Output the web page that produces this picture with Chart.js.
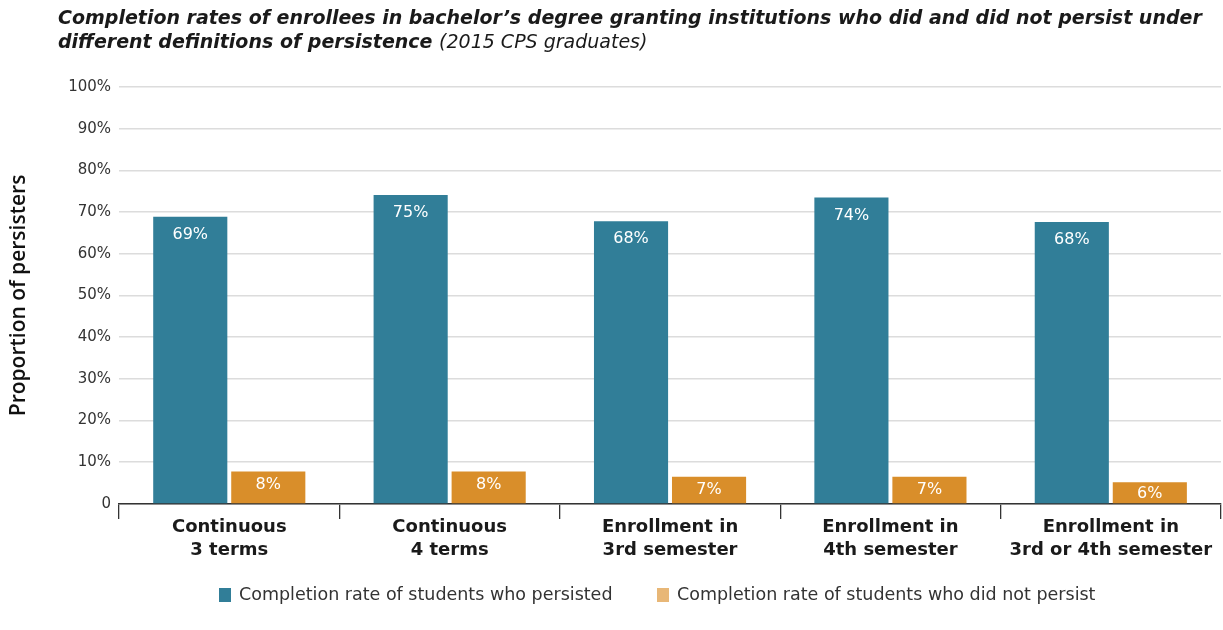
<!DOCTYPE html>
<html>
<head>
<meta charset="utf-8">
<script src="https://cdn.jsdelivr.net/npm/chart.js@4.4.1/dist/chart.umd.min.js"></script>
<style>
  html, body { margin: 0; padding: 0; background: #fff; }
  #wrap { position: relative; width: 1223px; height: 630px; overflow: hidden; }
  #title { position: absolute; left: 58px; top: 5px; white-space: nowrap; font-family: "DejaVu Sans", sans-serif;
           font-style: italic; font-weight: 700; font-size: 19px; line-height: 24px; color: #1a1a1a; }
  #title span { font-weight: 400; }
  canvas { position: absolute; left: 0; top: 0; }
  #legend { position: absolute; top: 584px; left: 0; width: 1223px; height: 22px; font-family: "DejaVu Sans", sans-serif;
            font-size: 17.5px; color: #333; }
  .li { position: absolute; top: 0; white-space: nowrap; line-height: 20px; }
  .sw { display: inline-block; width: 12px; height: 14px; vertical-align: -2px; margin-right: 8px; }
</style>
</head>
<body>
<div id="wrap">
  <canvas id="c" width="1223" height="630"></canvas>
  <div id="title">Completion rates of enrollees in bachelor’s degree granting institutions who did and did not persist under<br>different definitions of persistence <span>(2015 CPS graduates)</span></div>
  <div id="legend"></div>
</div>
<script>
const categories = [
  ["Continuous", "3 terms"],
  ["Continuous", "4 terms"],
  ["Enrollment in", "3rd semester"],
  ["Enrollment in", "4th semester"],
  ["Enrollment in", "3rd or 4th semester"]
];
const persistedValues = [68.9, 74.1, 67.8, 73.5, 67.6];
const persistedLabels = ["69%", "75%", "68%", "74%", "68%"];
const notPersistedValues = [7.8, 7.8, 6.5, 6.5, 5.2];
const notPersistedLabels = ["8%", "8%", "7%", "7%", "6%"];
const seriesNames = ["Completion rate of students who persisted", "Completion rate of students who did not persist"];
const yTicks = [0, 10, 20, 30, 40, 50, 60, 70, 80, 90, 100];

const BLUE = "#317e98";
const ORANGE = "#d98e2a";
const ORANGE_LEGEND = "#e8b777";
const FONT = "'DejaVu Sans', sans-serif";

// HTML legend built from the series names
const legendPos = [219, 657];
const legendColors = [BLUE, ORANGE_LEGEND];
const legendEl = document.getElementById("legend");
seriesNames.forEach((name, i) => {
  const d = document.createElement("div");
  d.className = "li";
  d.style.left = legendPos[i] + "px";
  const sw = document.createElement("span");
  sw.className = "sw";
  sw.style.background = legendColors[i];
  d.appendChild(sw);
  d.appendChild(document.createTextNode(name));
  legendEl.appendChild(d);
});

const barLabelPlugin = {
  id: "barLabels",
  afterDatasetsDraw(chart) {
    const ctx = chart.ctx;
    const labelSets = [persistedLabels, notPersistedLabels];
    ctx.save();
    ctx.fillStyle = "#ffffff";
    ctx.font = "16px " + FONT;
    ctx.textAlign = "center";
    ctx.textBaseline = "middle";
    chart.data.datasets.forEach((ds, i) => {
      const meta = chart.getDatasetMeta(i);
      meta.data.forEach((bar, j) => {
        const h = bar.base - bar.y;
        const off = h > 60 ? 18 : Math.min(13, h / 2 + 1);
        ctx.fillText(labelSets[i][j], bar.x, bar.y + off);
      });
    });
    ctx.restore();
  }
};

new Chart(document.getElementById("c"), {
  type: "bar",
  data: {
    labels: categories,
    datasets: [
      { label: seriesNames[0], data: persistedValues, backgroundColor: BLUE,
        categoryPercentage: 0.708, barPercentage: 0.95 },
      { label: seriesNames[1], data: notPersistedValues, backgroundColor: ORANGE,
        categoryPercentage: 0.708, barPercentage: 0.95 }
    ]
  },
  options: {
    responsive: false,
    animation: false,
    devicePixelRatio: 1,
    layout: { padding: { top: 87, right: 2, left: 6, bottom: 71 } },
    plugins: {
      title: { display: false },
      tooltip: { enabled: false },
      legend: { display: false }
    },
    scales: {
      x: {
        offset: true,
        grid: { display: true, drawOnChartArea: false, drawTicks: true, tickLength: 15, color: "#333", lineWidth: 1.3, offset: true },
        border: { display: true, color: "#333", width: 1.5 },
        ticks: { font: { family: FONT, size: 18, weight: "bold", lineHeight: 1.28 }, color: "#1a1a1a", padding: -3, maxRotation: 0, autoSkip: false }
      },
      y: {
        min: 0, max: 100,
        afterBuildTicks(scale) { scale.ticks = yTicks.map(v => ({ value: v })); },
        grid: { color: "#dcdcdc", lineWidth: 1.5, drawTicks: false },
        border: { display: false },
        ticks: {
          font: { family: FONT, size: 15 }, color: "#333", padding: 8,
          callback: (v) => v === 0 ? "0" : v + "%"
        },
        title: {
          display: true, text: "Proportion of persisters",
          font: { family: "'Open Sans', sans-serif", size: 21, weight: "600", lineHeight: 1.2 }, color: "#111", padding: { top: 0, bottom: 29 }
        }
      }
    }
  },
  plugins: [barLabelPlugin]
});
</script>
</body>
</html>
